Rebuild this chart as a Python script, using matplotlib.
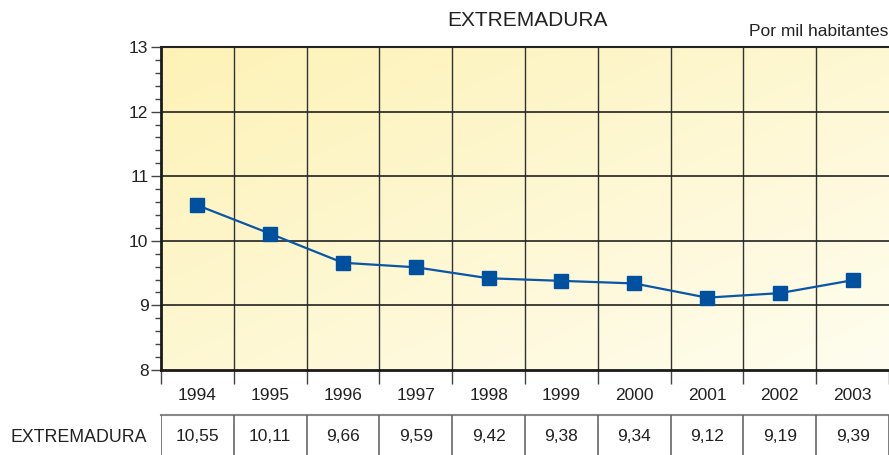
import numpy as np
import matplotlib
matplotlib.use("Agg")
import matplotlib.pyplot as plt
from matplotlib.colors import LinearSegmentedColormap

plt.rcParams['font.family'] = ['Liberation Sans', 'DejaVu Sans']

years = ['1994', '1995', '1996', '1997', '1998', '1999', '2000', '2001', '2002', '2003']
values = [10.55, 10.11, 9.66, 9.59, 9.42, 9.38, 9.34, 9.12, 9.19, 9.39]
value_labels = ['10,55', '10,11', '9,66', '9,59', '9,42', '9,38', '9,34', '9,12', '9,19', '9,39']
series_name = 'EXTREMADURA'
title = 'EXTREMADURA'
unit = 'Por mil habitantes'
y_ticks = [8, 9, 10, 11, 12, 13]

W, H = 889, 455
fig = plt.figure(figsize=(W / 100, H / 100), dpi=100)

def fx(px):
    return px / W

def fy(py):
    return 1 - py / H

L, R, T, B = 161, 889, 47, 370
ax = fig.add_axes([fx(L), fy(B), fx(R) - fx(L), fy(T) - fy(B)])
n = len(years)
ax.set_xlim(0, n)
ax.set_ylim(8, 13)

# gradient background (top-left deeper yellow -> bottom-right pale)
gx, gy = np.meshgrid(np.linspace(0, 1, 200), np.linspace(0, 1, 200))
g = (gx + gy) / 2
cmap = LinearSegmentedColormap.from_list('bg', ['#FDF2B6', '#FFFDEF'])
ax.imshow(g, cmap=cmap, extent=[0, n, 8, 13], aspect='auto', origin='upper', zorder=0)

# grid
for xb in range(1, n):
    ax.axvline(xb, color='#333333', lw=1.0, zorder=1)
for yv in y_ticks[1:-1]:
    ax.axhline(yv, color='#222222', lw=1.2, zorder=1)

xc = np.arange(n) + 0.5
ax.plot(xc, values, color='#0A55A5', lw=1.6, marker='s', ms=9.5,
        mfc='#0050A0', mec='#0050A0', zorder=3)

for s in ['left', 'bottom']:
    ax.spines[s].set_linewidth(2.0)
    ax.spines[s].set_color('#1a1a1a')
ax.spines['top'].set_linewidth(1.5)
ax.spines['top'].set_color('#222222')
ax.spines['right'].set_visible(False)

FS = 12.5
ax.set_yticks(y_ticks)
ax.set_yticklabels([str(v) for v in y_ticks], fontsize=FS, color='#222222')
ax.set_yticks(np.arange(8, 13.01, 0.2), minor=True)
ax.tick_params(axis='y', which='major', length=7, width=1.0, color='#444444', pad=2)
ax.tick_params(axis='y', which='minor', length=4, width=1.0, color='#444444')

ax.set_xticks(np.arange(0, n + 1))
ax.set_xticklabels([])
ax.tick_params(axis='x', which='major', length=10, width=1.0, color='#444444')
ax.set_xticks(xc, minor=True)
ax.set_xticklabels(years, minor=True, fontsize=FS, color='#222222')
ax.tick_params(axis='x', which='minor', length=0, pad=13)

fig.text(fx(527), fy(20), title, ha='center', va='center', fontsize=15, color='#222222')
fig.text(fx(888), fy(32), unit, ha='right', va='center', fontsize=12.5, color='#222222')

# table
tax = fig.add_axes([fx(L), 0, fx(R) - fx(L), fy(415)])
tax.set_xlim(0, n)
tax.set_ylim(-1, 40)
tax.axis('off')
tax.axhline(40, color='#888888', lw=1.5, clip_on=False)
for xb in range(0, n + 1):
    tax.axvline(xb, color='#666666', lw=1.2)
for i, lab in enumerate(value_labels):
    tax.text(i + 0.5, 18, lab, ha='center', va='center', fontsize=FS, color='#222222')
fig.text(fx(10), fy(437), series_name, ha='left', va='center', fontsize=12.8, color='#222222')

fig.savefig('out.png', dpi=100)
